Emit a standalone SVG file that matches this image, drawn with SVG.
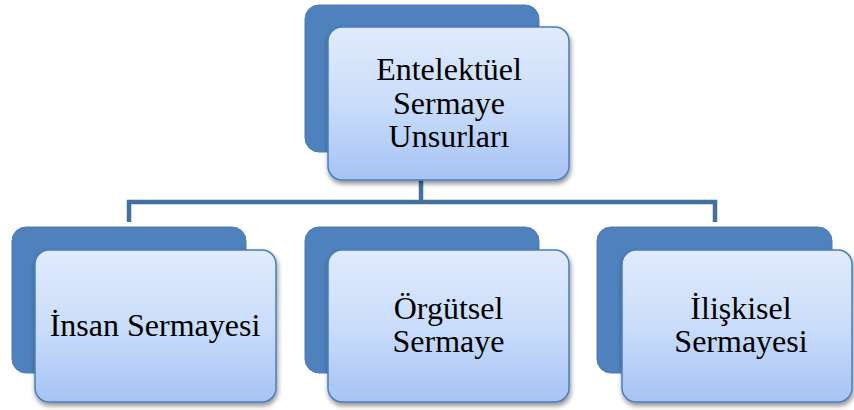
<svg xmlns="http://www.w3.org/2000/svg" width="854" height="410" viewBox="0 0 854 410">
  <defs>
    <linearGradient id="frontFill" x1="0" y1="0" x2="0" y2="1">
      <stop offset="0" stop-color="#E1EBFC"/>
      <stop offset="0.5" stop-color="#CADDFA"/>
      <stop offset="1" stop-color="#A6C3F5"/>
    </linearGradient>
    <filter id="shadow" x="-10%" y="-10%" width="125%" height="130%">
      <feGaussianBlur in="SourceAlpha" stdDeviation="2.5"/>
      <feOffset dx="1" dy="3" result="b"/>
      <feComponentTransfer><feFuncA type="linear" slope="0.45"/></feComponentTransfer>
      <feMerge><feMergeNode/><feMergeNode in="SourceGraphic"/></feMerge>
    </filter>
  </defs>
  <style>
    .back { fill: #4F81BD; stroke: #4A7AB5; stroke-width: 1; }
    .front { fill: url(#frontFill); stroke: #4A7EBB; stroke-width: 1.5; filter: url(#shadow); }
    .link { fill: none; stroke: #41719C; stroke-width: 4.5; stroke-linejoin: miter; }
  </style>

  <g id="connectors">
    <path class="link" d="M421,180 V202"/>
    <path class="link" d="M129,222 V202 H715 V222"/>
  </g>

  <g font-family="Liberation Serif, serif" font-size="32" fill="#000" text-anchor="middle">
    <g id="node-root">
      <rect class="back" x="305" y="5" width="234" height="147" rx="14"/>
      <rect class="front" x="328" y="27" width="241" height="153" rx="14"/>
      <text x="449" y="80">Entelektüel</text>
      <text x="449" y="113.5">Sermaye</text>
      <text x="449" y="147">Unsurları</text>
    </g>

    <g id="node-insan">
      <rect class="back" x="12" y="227" width="234" height="146" rx="14"/>
      <rect class="front" x="35" y="250" width="241" height="152" rx="14"/>
      <text x="155" y="336">İnsan Sermayesi</text>
    </g>

    <g id="node-orgutsel">
      <rect class="back" x="305" y="227" width="234" height="146" rx="14"/>
      <rect class="front" x="328" y="250" width="241" height="152" rx="14"/>
      <text x="448.5" y="318.5">Örgütsel</text>
      <text x="448.5" y="352">Sermaye</text>
    </g>

    <g id="node-iliskisel">
      <rect class="back" x="597" y="227" width="235" height="146" rx="14"/>
      <rect class="front" x="622" y="250" width="230" height="152" rx="14"/>
      <text x="741" y="318.5">İlişkisel</text>
      <text x="741" y="352">Sermayesi</text>
    </g>
  </g>
</svg>
